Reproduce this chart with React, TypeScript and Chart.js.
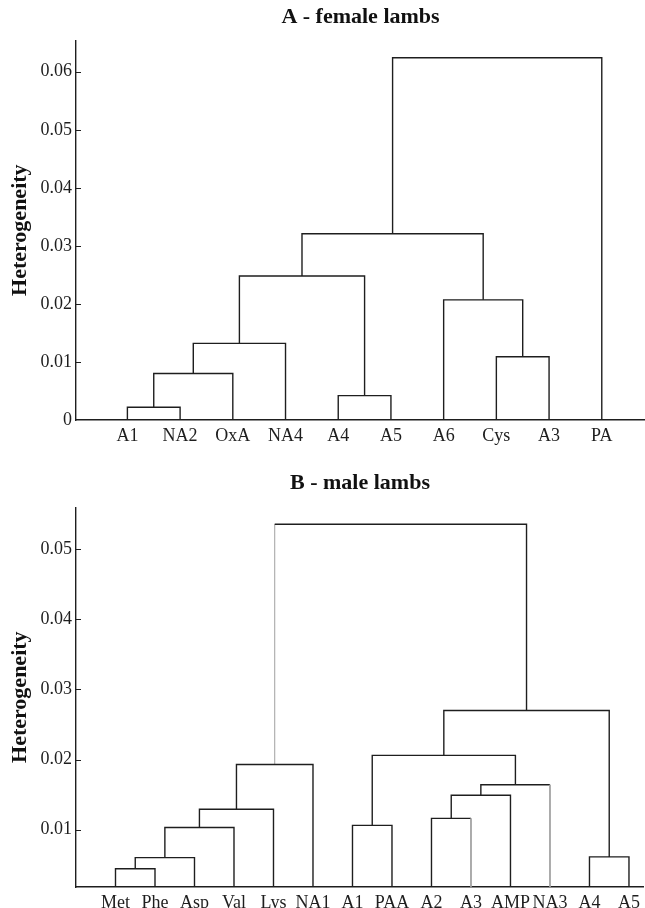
import React, { useEffect, useRef } from 'react';
import { Chart, registerables } from 'chart.js';

Chart.register(...registerables);

// ---- Panel A: female lambs ----
const topLeaves = ['A1', 'NA2', 'OxA', 'NA4', 'A4', 'A5', 'A6', 'Cys', 'A3', 'PA'];
// linkage: cluster ids >= number of leaves refer to earlier merges
const topMergeLeft = [0, 10, 11, 4, 12, 7, 6, 14, 17];
const topMergeRight = [1, 2, 3, 5, 13, 8, 15, 16, 9];
const topMergeHeight = [0.0022, 0.008, 0.0132, 0.0042, 0.0248, 0.0109, 0.0207, 0.0321, 0.0624];
const topYTicks = [0, 0.01, 0.02, 0.03, 0.04, 0.05, 0.06];

// ---- Panel B: male lambs ----
const bottomLeaves = ['Met', 'Phe', 'Asp', 'Val', 'Lys', 'NA1', 'A1', 'PAA', 'A2', 'A3', 'AMP', 'NA3', 'A4', 'A5'];
const bottomMergeLeft = [0, 14, 15, 16, 17, 6, 8, 20, 21, 19, 12, 23, 18];
const bottomMergeRight = [1, 2, 3, 4, 5, 7, 9, 10, 11, 22, 13, 24, 25];
const bottomMergeHeight = [0.0044, 0.006, 0.0103, 0.0129, 0.0193, 0.0106, 0.0116, 0.0149, 0.0164, 0.0206, 0.0061, 0.027, 0.0536];
const bottomYTicks = [0.01, 0.02, 0.03, 0.04, 0.05];

const FONT = "'Liberation Serif', 'Times New Roman', serif";
const INK = '#1e1e1e';

type Props = {
  leaves: string[];
  left: number[];
  right: number[];
  heights: number[];
  yTicks: number[];
  yMin: number;
  yMax: number;
  xMin: number;
  xMax: number;
  title: string;
  canvasHeight: number;
  titlePad: { top: number; bottom: number };
  xAxisHeight: number;
  lightLegs: Array<[number, 'left' | 'right']>;
};

const innerTicks = {
  id: 'innerTicks',
  afterDraw(chart: any) {
    const ys = chart.scales.y;
    const ctx = chart.ctx;
    const l = chart.chartArea.left;
    ctx.save();
    ctx.strokeStyle = INK;
    ctx.lineWidth = 1;
    ys.ticks.forEach((t: any) => {
      if (t.value === 0) return;
      const py = Math.round(ys.getPixelForValue(t.value)) + 0.5;
      ctx.beginPath();
      ctx.moveTo(l, py);
      ctx.lineTo(l + 5, py);
      ctx.stroke();
    });
    ctx.restore();
  },
};

function Dendrogram(p: Props) {
  const ref = useRef<HTMLCanvasElement | null>(null);
  useEffect(() => {
    if (!ref.current) return;
    const pos: number[] = p.leaves.map((_, i) => i + 1);
    const hgt: number[] = p.leaves.map(() => p.yMin);
    const datasets = p.heights.map((h, k) => {
      const a = p.left[k];
      const b = p.right[k];
      const xa = pos[a];
      const xb = pos[b];
      const data = [
        { x: xa, y: hgt[a] },
        { x: xa, y: h },
        { x: xb, y: h },
        { x: xb, y: hgt[b] },
      ];
      pos.push((xa + xb) / 2);
      hgt.push(h);
      const lightL = p.lightLegs.some(([m, s]) => m === k && s === 'left');
      const lightR = p.lightLegs.some(([m, s]) => m === k && s === 'right');
      return {
        data,
        showLine: true,
        pointRadius: 0,
        borderColor: INK,
        borderWidth: 1.4,
        segment: {
          borderColor: (c: any) =>
            (c.p0DataIndex === 0 && lightL) || (c.p0DataIndex === 2 && lightR) ? '#a0a0a0' : INK,
          borderWidth: (c: any) =>
            (c.p0DataIndex === 0 && lightL) || (c.p0DataIndex === 2 && lightR) ? 1 : 1.4,
        },
      };
    });

    const chart = new Chart(ref.current, {
      type: 'scatter',
      data: { datasets },
      plugins: [innerTicks],
      options: {
        animation: false,
        responsive: false,
        layout: { padding: 0 },
        plugins: {
          legend: { display: false },
          tooltip: { enabled: false },
          title: {
            display: true,
            text: p.title,
            fullSize: false,
            color: '#111',
            font: { family: FONT, size: 22, weight: 'bold' },
            padding: p.titlePad,
          },
        },
        scales: {
          x: {
            type: 'linear',
            min: p.xMin,
            max: p.xMax,
            grid: { display: false, drawTicks: false },
            border: { display: true, color: INK, width: 1.4 },
            afterBuildTicks: (s: any) => {
              s.ticks = p.leaves.map((_, i) => ({ value: i + 1 }));
            },
            afterFit: (s: any) => {
              s.height = p.xAxisHeight;
            },
            ticks: {
              autoSkip: false,
              maxRotation: 0,
              minRotation: 0,
              padding: 5,
              color: INK,
              font: { family: FONT, size: 18 },
              callback: (v: any) => p.leaves[Math.round(Number(v)) - 1] ?? '',
            },
          },
          y: {
            type: 'linear',
            min: p.yMin,
            max: p.yMax,
            grid: { display: false, drawTicks: false },
            border: { display: true, color: INK, width: 1.4 },
            afterBuildTicks: (s: any) => {
              s.ticks = p.yTicks.map((v) => ({ value: v }));
            },
            afterFit: (s: any) => {
              s.width = 76;
            },
            ticks: {
              padding: 4,
              color: INK,
              font: { family: FONT, size: 18 },
              callback: (v: any) => (Number(v) === 0 ? '0' : Number(v).toFixed(2)),
            },
            title: {
              display: true,
              text: 'Heterogeneity',
              color: '#111',
              font: { family: FONT, size: 22, weight: 'bold' },
              padding: { top: 7, bottom: 0 },
            },
          },
        },
      } as any,
    });
    return () => chart.destroy();
  }, []);
  return <canvas ref={ref} width={645} height={p.canvasHeight} style={{ display: 'block' }} />;
}

export default function App() {
  return (
    <div style={{ position: 'absolute', left: 0, top: 0, width: 645, height: 908, background: '#fff', overflow: 'hidden' }}>
      <Dendrogram
        leaves={topLeaves}
        left={topMergeLeft}
        right={topMergeRight}
        heights={topMergeHeight}
        yTicks={topYTicks}
        yMin={0}
        yMax={0.0654}
        xMin={0.025}
        xMax={10.82}
        title="A - female lambs"
        canvasHeight={460}
        titlePad={{ top: 4, bottom: 10 }}
        xAxisHeight={40}
        lightLegs={[]}
      />
      <Dendrogram
        leaves={bottomLeaves}
        left={bottomMergeLeft}
        right={bottomMergeRight}
        heights={bottomMergeHeight}
        yTicks={bottomYTicks}
        yMin={0.0018}
        yMax={0.056}
        xMin={0}
        xMax={14.38}
        title="B - male lambs"
        canvasHeight={448}
        titlePad={{ top: 10, bottom: 11 }}
        xAxisHeight={21}
        lightLegs={[[12, 'left'], [6, 'right'], [8, 'right']]}
      />
    </div>
  );
}
